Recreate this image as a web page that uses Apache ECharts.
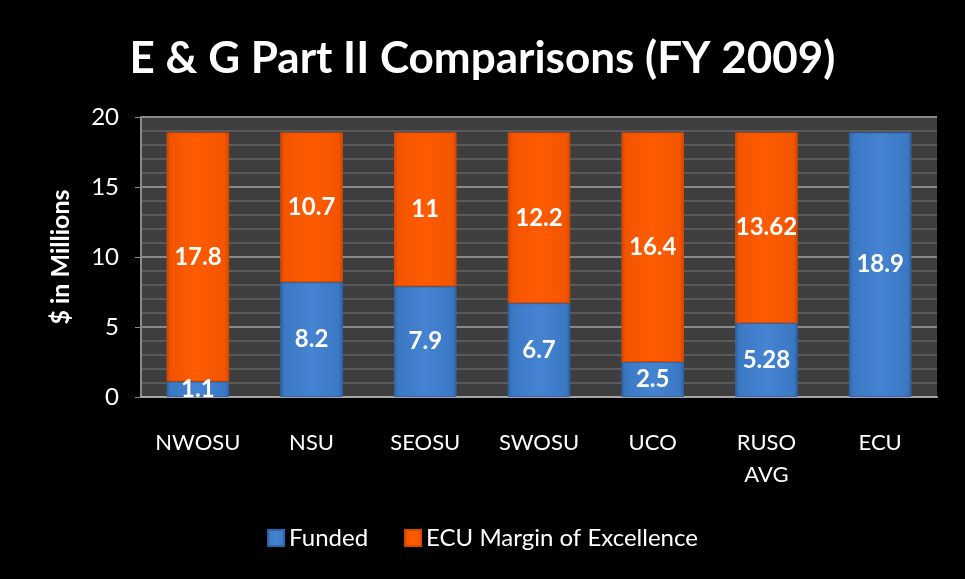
<!DOCTYPE html>
<html>
<head>
<meta charset="utf-8">
<script src="https://cdn.jsdelivr.net/npm/echarts@6/dist/echarts.min.js"></script>
<style>
  html, body { margin: 0; padding: 0; background: #000; }
  #chart { width: 965px; height: 579px; }
</style>
</head>
<body>
<div id="chart"></div>
<script>
// categories and values
var schools = ['NWOSU', 'NSU', 'SEOSU', 'SWOSU', 'UCO', 'RUSO\nAVG', 'ECU'];
var funded = [1.1, 8.2, 7.9, 6.7, 2.5, 5.28, 18.9];
var margin = [17.8, 10.7, 11, 12.2, 16.4, 13.62, 0];
var yTicks = [0, 5, 10, 15, 20];

function bevel(dark, mid, light) {
    return new echarts.graphic.LinearGradient(0, 0, 1, 0, [
        { offset: 0, color: dark },
        { offset: 0.06, color: mid },
        { offset: 0.5, color: light },
        { offset: 0.94, color: mid },
        { offset: 1, color: dark }
    ]);
}

// a zero segment draws nothing
function noZero(arr) {
    return arr.map(function (v) { return v === 0 ? null : v; });
}

var dom = document.getElementById('chart');
var myChart = echarts.init(dom);

var labelStyle = {
    show: true,
    position: 'inside',
    color: '#fff',
    fontFamily: 'Lato',
    fontWeight: 'bold',
    fontSize: 24
};

var option = {
    backgroundColor: '#000',
    title: {
        text: 'E & G Part II Comparisons (FY 2009)',
        left: 'center',
        top: 32,
        textStyle: {
            color: '#fff',
            fontFamily: 'Lato',
            fontWeight: 'bold',
            fontSize: 44
        }
    },
    legend: {
        bottom: 24,
        left: 'center',
        itemWidth: 16,
        itemHeight: 16,
        itemGap: 36,
        textStyle: { color: '#fff', fontFamily: 'Lato', fontSize: 24 },
        data: [
            { name: 'Funded', icon: 'rect' },
            { name: 'ECU Margin of Excellence', icon: 'rect' }
        ]
    },
    grid: {
        left: 141,
        right: 28,
        top: 117,
        bottom: 182,
        show: true,
        backgroundColor: '#3e3e3e',
        borderWidth: 0
    },
    xAxis: {
        type: 'category',
        data: schools,
        axisLine: { lineStyle: { color: '#a6a6a6', width: 2 } },
        axisTick: { show: false },
        axisLabel: {
            color: '#fff',
            fontFamily: 'Lato',
            fontSize: 22,
            margin: 30,
            lineHeight: 32
        }
    },
    yAxis: {
        type: 'value',
        min: yTicks[0],
        max: yTicks[yTicks.length - 1],
        interval: 5,
        name: '$ in Millions',
        nameLocation: 'middle',
        nameGap: 68,
        nameTextStyle: { color: '#fff', fontFamily: 'Lato', fontWeight: 'bold', fontSize: 25 },
        axisLine: { show: true, lineStyle: { color: '#8c8c8c', width: 2 } },
        axisTick: { show: true, length: 6, lineStyle: { color: '#8c8c8c' } },
        axisLabel: { color: '#fff', fontFamily: 'Lato', fontSize: 24, margin: 22 },
        splitLine: { lineStyle: { color: '#8a8a8a', width: 2 } },
        minorTick: { show: false, splitNumber: 5 },
        minorSplitLine: { show: true, lineStyle: { color: '#5a5a5a', width: 2 } }
    },
    series: [
        {
            name: 'Funded',
            type: 'bar',
            stack: 'total',
            barWidth: '55%',
            data: noZero(funded),
            itemStyle: {
                color: bevel('#2c5d9c', '#3b78c4', '#4584d2'),
                borderColor: '#2f66ab',
                borderWidth: 1
            },
            label: labelStyle
        },
        {
            name: 'ECU Margin of Excellence',
            type: 'bar',
            stack: 'total',
            barWidth: '55%',
            data: noZero(margin),
            itemStyle: {
                color: bevel('#c94400', '#f25400', '#ff5c00'),
                borderColor: '#d84a00',
                borderWidth: 1
            },
            label: labelStyle
        }
    ]
};

myChart.setOption(option);
</script>
</body>
</html>
